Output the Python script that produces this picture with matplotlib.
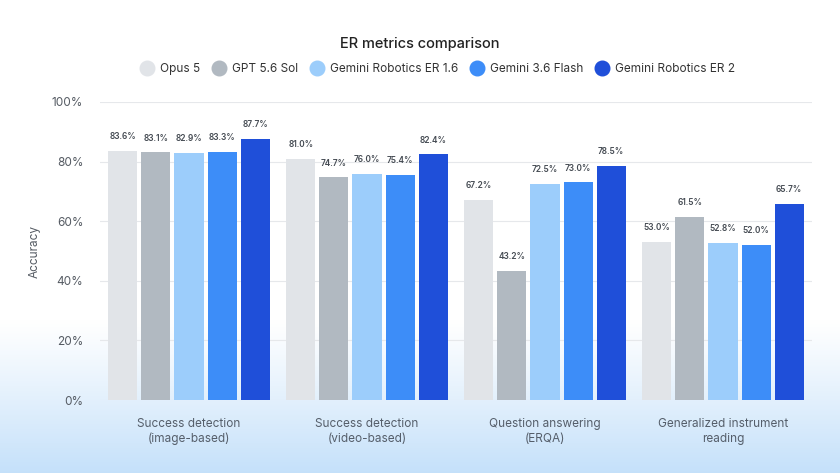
import numpy as np
import matplotlib
matplotlib.use("Agg")
import matplotlib.pyplot as plt

categories = ["Success detection\n(image-based)", "Success detection\n(video-based)",
              "Question answering\n(ERQA)", "Generalized instrument\nreading"]
models = ["Opus 5", "GPT 5.6 Sol", "Gemini Robotics ER 1.6", "Gemini 3.6 Flash", "Gemini Robotics ER 2"]
scores = {
    "Opus 5": [83.6, 81.0, 67.2, 53.0],
    "GPT 5.6 Sol": [83.1, 74.7, 43.2, 61.5],
    "Gemini Robotics ER 1.6": [82.9, 76.0, 72.5, 52.8],
    "Gemini 3.6 Flash": [83.3, 75.4, 73.0, 52.0],
    "Gemini Robotics ER 2": [87.7, 82.4, 78.5, 65.7],
}
colors = ["#e1e4e8", "#b1b9c1", "#9ccdfb", "#3d8df8", "#1f4fd9"]

plt.rcParams['font.family'] = ['Inter', 'DejaVu Sans']

fig = plt.figure(figsize=(8.4, 4.73), dpi=100)

# background: white fading into light blue at the bottom
bg = fig.add_axes([0, 0, 1, 1], zorder=-10)
h = 473
t = np.clip((np.arange(h) - 320) / 153.0, 0, 1)[:, None]
top = np.array([1.0, 1.0, 1.0])
bot = np.array([0.77, 0.88, 0.98])
grad = top + (bot - top) * (t[..., None] ** 1.1)
grad = np.repeat(grad, 10, axis=1)
bg.imshow(grad, aspect='auto', extent=[0, 1, 0, 1], origin='upper')
bg.axis('off')

ax = fig.add_axes([100 / 840, 73 / 473, 712 / 840, 298 / 473])
ax.patch.set_alpha(0)

x = np.arange(len(categories))
pitch = 0.186
width = 0.163
for i, (m, c) in enumerate(zip(models, colors)):
    offs = (i - 2) * pitch
    vals = scores[m]
    ax.bar(x + offs, vals, width, color=c, label=m, zorder=3)
    for xi, v in zip(x, vals):
        ax.text(xi + offs, v + 3.3, f"{v:.1f}%", ha='center', va='bottom',
                fontsize=6, color='#444a52', fontweight='semibold')

ax.set_xlim(-0.5, 3.5)
ax.set_ylim(0, 100)
ax.set_yticks(np.arange(0, 101, 20))
ax.set_yticklabels([f"{v}%" for v in range(0, 101, 20)], fontsize=8.5, color='#555b63')
ax.set_xticks(x)
ax.set_xticklabels(categories, fontsize=8.5, color='#555e6a', linespacing=1.3)
ax.tick_params(axis='both', length=0)
ax.tick_params(axis='x', pad=13)
ax.tick_params(axis='y', pad=12)
ax.grid(axis='y', color='#e6e8eb', linewidth=0.8, zorder=0)
for s in ax.spines.values():
    s.set_visible(False)
ax.set_ylabel("Accuracy", fontsize=8.5, color='#555b63', labelpad=8)

fig.text(0.5, 1 - 44 / 473, "ER metrics comparison", ha='center', va='center',
         fontsize=10.5, color='#222', fontweight='medium')

handles = [plt.Line2D([], [], marker='o', linestyle='', markersize=10.5,
                      markerfacecolor=c, markeredgecolor=c) for c in colors]
fig.legend(handles, models, loc='center', bbox_to_anchor=(0.518, 1 - 69 / 473),
           ncol=5, frameon=False, fontsize=8.5, handletextpad=0.1, columnspacing=0.6,
           labelcolor='#333')

fig.savefig("out.png", dpi=100)
